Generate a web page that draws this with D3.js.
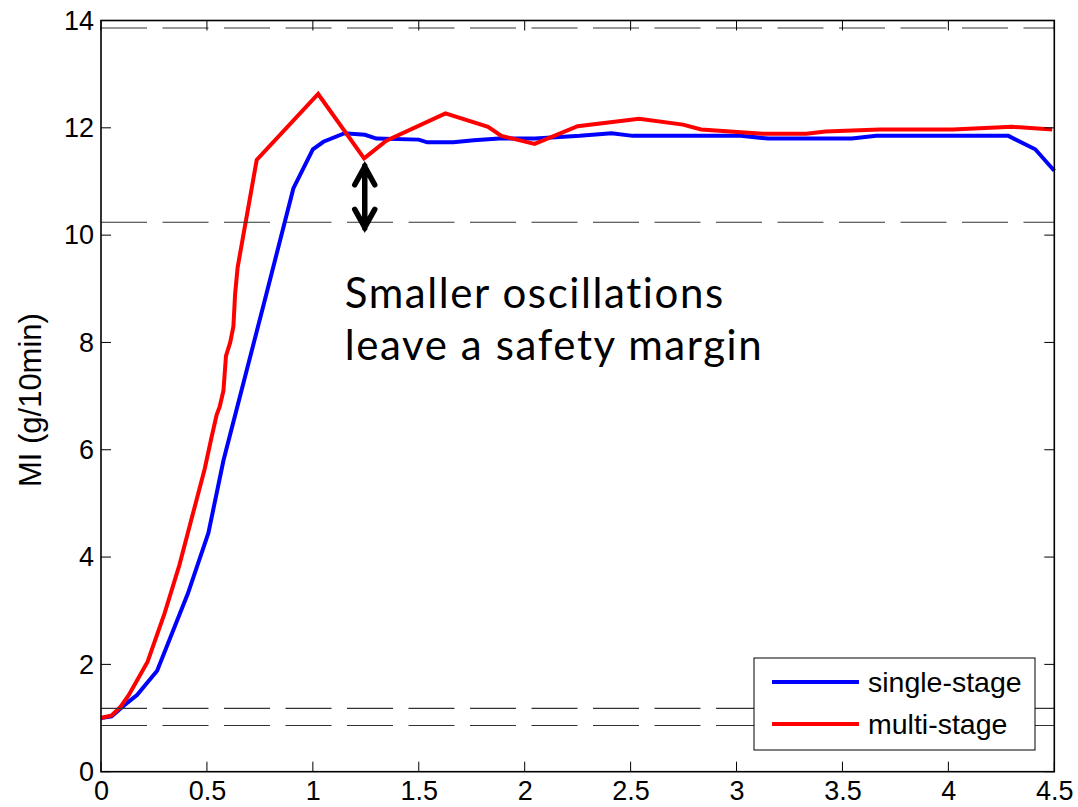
<!DOCTYPE html>
<html>
<head>
<meta charset="utf-8">
<script src="https://cdn.jsdelivr.net/npm/d3@7"></script>
<style>
  html, body { margin: 0; padding: 0; background: #fff; }
  svg { display: block; }
</style>
</head>
<body>
<div id="chart"></div>
<script>
// single-stage controller response
const TIME_SINGLE = [0, 0.05, 0.113, 0.17, 0.265, 0.41, 0.507, 0.578, 0.774, 0.908, 1.0, 1.05, 1.15, 1.246, 1.3, 1.5, 1.54, 1.663, 1.76, 1.88, 2.05, 2.26, 2.41, 2.51, 3.02, 3.15, 3.544, 3.66, 4.283, 4.41, 4.5];
const MI_SINGLE = [1.0, 1.03, 1.25, 1.43, 1.88, 3.32, 4.45, 5.8, 8.8, 10.87, 11.6, 11.74, 11.9, 11.87, 11.8, 11.78, 11.73, 11.73, 11.77, 11.8, 11.8, 11.85, 11.9, 11.85, 11.85, 11.8, 11.8, 11.85, 11.85, 11.6, 11.2];

// multi-stage controller response
const TIME_MULTI = [0, 0.05, 0.09, 0.13, 0.17, 0.22, 0.3, 0.37, 0.43, 0.49, 0.52, 0.546, 0.56, 0.578, 0.59, 0.61, 0.625, 0.633, 0.645, 0.735, 1.025, 1.242, 1.347, 1.626, 1.827, 1.89, 2.047, 2.25, 2.54, 2.747, 2.833, 3.124, 3.33, 3.42, 3.675, 4.02, 4.3, 4.49];
const MI_MULTI = [1.0, 1.05, 1.2, 1.42, 1.7, 2.05, 2.95, 3.85, 4.75, 5.65, 6.2, 6.65, 6.8, 7.1, 7.75, 8.0, 8.3, 8.9, 9.4, 11.4, 12.63, 11.43, 11.76, 12.27, 12.02, 11.85, 11.7, 12.03, 12.17, 12.06, 11.97, 11.89, 11.89, 11.93, 11.97, 11.97, 12.02, 11.97];

// +-15% bands around the start and target values
const LIMITS = [13.86, 10.24, 1.18, 0.86];

const X_TICKS = [0, 0.5, 1, 1.5, 2, 2.5, 3, 3.5, 4, 4.5];
const Y_TICKS = [0, 2, 4, 6, 8, 10, 12, 14];

const SERIES = [
  { name: "single-stage", color: "#0000ff", t: TIME_SINGLE, v: MI_SINGLE },
  { name: "multi-stage", color: "#ff0000", t: TIME_MULTI, v: MI_MULTI },
];

const width = 1078;
const height = 807;
const margin = { top: 20.5, right: 23.7, bottom: 35.3, left: 101 };
const font = "'Liberation Sans', Arial, sans-serif";

const x = d3.scaleLinear().domain([0, 4.5]).range([margin.left, width - margin.right]);
const y = d3.scaleLinear().domain([0, 14]).range([height - margin.bottom, margin.top]);

const svg = d3
  .select("#chart")
  .append("svg")
  .attr("width", width)
  .attr("height", height)
  .attr("font-family", font);

const line = d3
  .line()
  .x((d) => x(d[0]))
  .y((d) => y(d[1]));

svg
  .append("g")
  .selectAll("path")
  .data(SERIES)
  .join("path")
  .attr("fill", "none")
  .attr("stroke", (d) => d.color)
  .attr("stroke-width", 4)
  .attr("stroke-linejoin", "miter")
  .attr("d", (d) => line(d.t.map((t, i) => [t, d.v[i]])));

svg
  .append("g")
  .selectAll("line")
  .data(LIMITS)
  .join("line")
  .attr("x1", x(0))
  .attr("x2", x(4.5))
  .attr("y1", (d) => y(d))
  .attr("y2", (d) => y(d))
  .attr("stroke", "#333")
  .attr("stroke-width", 1.1)
  .attr("stroke-dasharray", "46,15.5");

// axes: ticks inside on all four sides, matlab style box
const tickLen = 10;
const axisBottom = d3.axisBottom(x).tickValues(X_TICKS).tickSize(0).tickPadding(9).tickFormat(d3.format("~g"));
const axisLeft = d3.axisLeft(y).tickValues(Y_TICKS).tickSize(0).tickPadding(7).tickFormat(d3.format("~g"));

svg
  .append("g")
  .attr("transform", `translate(0,${y(0)})`)
  .call(axisBottom)
  .call((g) => g.select(".domain").remove())
  .call((g) => g.selectAll("text").attr("font-size", 27).attr("font-family", font).attr("fill", "#000"));

svg
  .append("g")
  .attr("transform", `translate(${x(0)},0)`)
  .call(axisLeft)
  .call((g) => g.select(".domain").remove())
  .call((g) => g.selectAll("text").attr("font-size", 27).attr("font-family", font).attr("fill", "#000"));

const ticks = svg.append("g").attr("stroke", "#000").attr("stroke-width", 1);
ticks
  .selectAll("line.xb")
  .data(X_TICKS)
  .join("line")
  .attr("class", "xb")
  .attr("x1", (d) => x(d))
  .attr("x2", (d) => x(d))
  .attr("y1", y(0))
  .attr("y2", y(0) - tickLen);
ticks
  .selectAll("line.xt")
  .data(X_TICKS)
  .join("line")
  .attr("class", "xt")
  .attr("x1", (d) => x(d))
  .attr("x2", (d) => x(d))
  .attr("y1", y(14))
  .attr("y2", y(14) + tickLen);
ticks
  .selectAll("line.yl")
  .data(Y_TICKS)
  .join("line")
  .attr("class", "yl")
  .attr("x1", x(0))
  .attr("x2", x(0) + tickLen)
  .attr("y1", (d) => y(d))
  .attr("y2", (d) => y(d));
ticks
  .selectAll("line.yr")
  .data(Y_TICKS)
  .join("line")
  .attr("class", "yr")
  .attr("x1", x(4.5))
  .attr("x2", x(4.5) - tickLen)
  .attr("y1", (d) => y(d))
  .attr("y2", (d) => y(d));

svg
  .append("rect")
  .attr("x", x(0))
  .attr("y", y(14))
  .attr("width", x(4.5) - x(0))
  .attr("height", y(0) - y(14))
  .attr("fill", "none")
  .attr("stroke", "#000")
  .attr("stroke-width", 1.6);

svg
  .append("text")
  .attr("transform", `translate(41,${(y(0) + y(14)) / 2 + 4}) rotate(-90)`)
  .attr("text-anchor", "middle")
  .attr("font-size", 31)
  .text("MI (g/10min)");

// double arrow between the multi-stage dip and the lower limit
const arrowX = x(1.245);
const arrowTop = y(11.33);
const arrowBottom = y(10.09);
svg
  .append("path")
  .attr("fill", "none")
  .attr("stroke", "#000")
  .attr("stroke-width", 5.5)
  .attr("stroke-linecap", "round")
  .attr("stroke-linejoin", "miter")
  .attr(
    "d",
    `M${arrowX},${arrowTop + 2}L${arrowX},${arrowBottom - 2}` +
      `M${arrowX - 10},${arrowTop + 21}L${arrowX},${arrowTop + 3}L${arrowX + 10},${arrowTop + 21}` +
      `M${arrowX - 10},${arrowBottom - 21}L${arrowX},${arrowBottom - 3}L${arrowX + 10},${arrowBottom - 21}`,
  );

const note = svg
  .append("text")
  .attr("font-family", "Lato, 'Open Sans', sans-serif")
  .attr("font-size", 42)
  .attr("letter-spacing", 1.6)
  .attr("fill", "#000");
note.append("tspan").attr("x", x(1.16) - 2).attr("y", y(8.65)).text("Smaller oscillations");
note.append("tspan").attr("x", x(1.16) - 2).attr("y", y(7.67)).text("leave a safety margin");

// legend
const legend = svg.append("g").attr("transform", "translate(754,658)");
legend
  .append("rect")
  .attr("width", 281)
  .attr("height", 92)
  .attr("fill", "#fff")
  .attr("stroke", "#000")
  .attr("stroke-width", 1);
const item = legend
  .selectAll("g")
  .data(SERIES)
  .join("g")
  .attr("transform", (d, i) => `translate(0,${24 + i * 42})`);
item
  .append("line")
  .attr("x1", 18)
  .attr("x2", 105)
  .attr("stroke", (d) => d.color)
  .attr("stroke-width", 4);
item
  .append("text")
  .attr("x", 114)
  .attr("dy", "0.35em")
  .attr("font-size", 28.5)
  .text((d) => d.name);
</script>
</body>
</html>
